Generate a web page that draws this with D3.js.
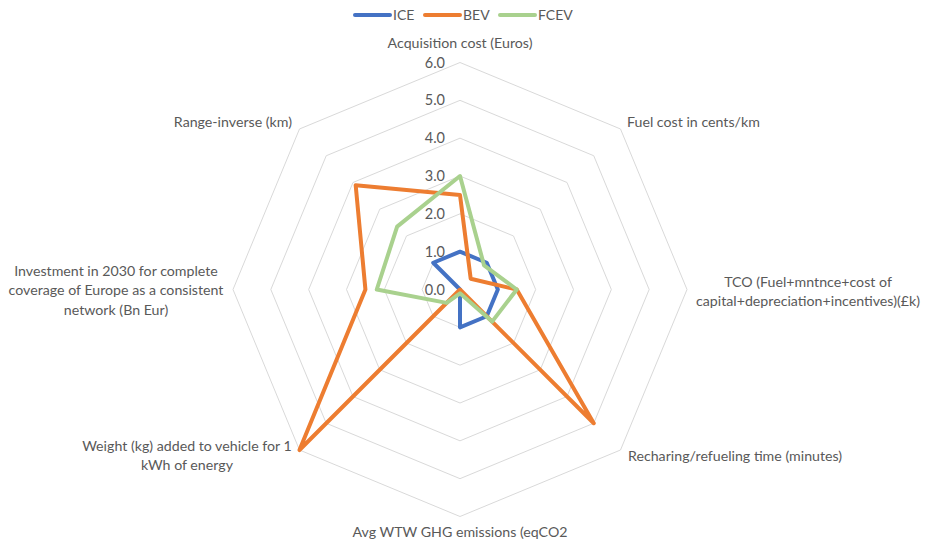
<!DOCTYPE html>
<html>
<head>
<meta charset="utf-8">
<script src="https://cdn.jsdelivr.net/npm/d3@7"></script>
<style>
  html, body { margin: 0; padding: 0; background: #fff; }
  svg { display: block; font-family: Lato, "Open Sans", sans-serif; }
</style>
</head>
<body>
<svg id="chart" width="925" height="545"></svg>
<script>
// Radar axes, clockwise from the top
const axes = [
  "Acquisition cost (Euros)",
  "Fuel cost in cents/km",
  "TCO (Fuel+mntnce+cost of\ncapital+depreciation+incentives)(£k)",
  "Recharing/refueling time (minutes)",
  "Avg WTW GHG emissions (eqCO2",
  "Weight (kg) added to vehicle for 1\nkWh of energy",
  "Investment in 2030 for complete\ncoverage of Europe as a consistent\nnetwork (Bn Eur)",
  "Range-inverse (km)"
];

const seriesNames = ["ICE", "BEV", "FCEV"];
const iceValues  = [1.0, 1.0, 1.0, 1.0, 1.0, 0.0, 0.0, 1.0];
const bevValues  = [2.5, 0.4, 1.5, 5.0, 0.0, 6.0, 2.5, 3.9];
const fcevValues = [3.0, 0.9, 1.5, 1.2, 0.1, 0.5, 2.2, 2.35];
const seriesColors = ["#4472C4", "#ED7D31", "#A9D18E"];

const tickValues = [0, 1, 2, 3, 4, 5, 6];
const tickLabels = ["0.0", "1.0", "2.0", "3.0", "4.0", "5.0", "6.0"];

const svg = d3.select("#chart");
const cx = 460, cy = 289.5, R = 227;
const textColor = "#595959";

const r = d3.scaleLinear().domain([0, 6]).range([0, R]);
const angle = d3.scalePoint().domain(d3.range(axes.length)).range([0, 2 * Math.PI * (axes.length - 1) / axes.length]);

const g = svg.append("g").attr("transform", `translate(${cx},${cy})`);

// Octagonal grid rings
const ringLine = d3.lineRadial()
  .angle(d => d[0])
  .radius(d => d[1])
  .curve(d3.curveLinearClosed);

g.append("g").selectAll("path")
  .data(tickValues)
  .join("path")
  .attr("d", t => ringLine(axes.map((_, i) => [angle(i), r(t)])))
  .attr("fill", "none")
  .attr("stroke", "#d9d9d9")
  .attr("stroke-width", 1);

// Series polygons
const allSeries = [iceValues, bevValues, fcevValues];
const seriesLine = d3.lineRadial()
  .angle((d, i) => angle(i))
  .radius(d => r(d))
  .curve(d3.curveLinearClosed);

g.append("g").selectAll("path")
  .data(allSeries)
  .join("path")
  .attr("d", d => seriesLine(d))
  .attr("fill", "none")
  .attr("stroke", (d, i) => seriesColors[i])
  .attr("stroke-width", 4)
  .attr("stroke-linejoin", "round");

// Radial tick labels along the top axis
g.append("g").selectAll("text")
  .data(tickValues)
  .join("text")
  .attr("x", -15)
  .attr("y", t => -r(t))
  .attr("dy", "0.35em")
  .attr("text-anchor", "end")
  .attr("fill", textColor)
  .attr("font-size", 14.5)
  .text((t, i) => tickLabels[i]);

// Category labels placed just outside the outer ring
const labelSpec = [
  { dx: 0,    dy: -246, anchor: "middle" },
  { dx: 167,  dy: -167, anchor: "start" },
  { dx: 348,  dy: 2,    anchor: "middle" },
  { dx: 168,  dy: 167,  anchor: "start" },
  { dx: 0,    dy: 243,  anchor: "middle" },
  { dx: -273, dy: 166,  anchor: "middle" },
  { dx: -344, dy: 1,    anchor: "middle" },
  { dx: -168, dy: -167, anchor: "end" }
];
const lh = 19.5;
const labels = g.append("g").selectAll("text")
  .data(axes)
  .join("text")
  .attr("fill", textColor)
  .attr("font-size", 14.2)
  .attr("text-anchor", (d, i) => labelSpec[i].anchor)
  .attr("transform", (d, i) => `translate(${labelSpec[i].dx},${labelSpec[i].dy})`);

labels.each(function(d) {
  const lines = d.split("\n");
  const off = -(lines.length - 1) * lh / 2;
  d3.select(this).selectAll("tspan")
    .data(lines)
    .join("tspan")
    .attr("x", 0)
    .attr("y", (l, j) => off + j * lh)
    .attr("dy", "0.35em")
    .text(l => l);
});

// Legend
const legendX = [355, 425, 500];
const legend = svg.append("g").selectAll("g")
  .data(seriesNames)
  .join("g")
  .attr("transform", (d, i) => `translate(${legendX[i]},15)`);
legend.append("line")
  .attr("x1", 0).attr("x2", 35)
  .attr("stroke", (d, i) => seriesColors[i])
  .attr("stroke-width", 4)
  .attr("stroke-linecap", "round");
legend.append("text")
  .attr("x", 38)
  .attr("dy", "0.35em")
  .attr("fill", textColor)
  .attr("font-size", 14)
  .text(d => d);
</script>
</body>
</html>
